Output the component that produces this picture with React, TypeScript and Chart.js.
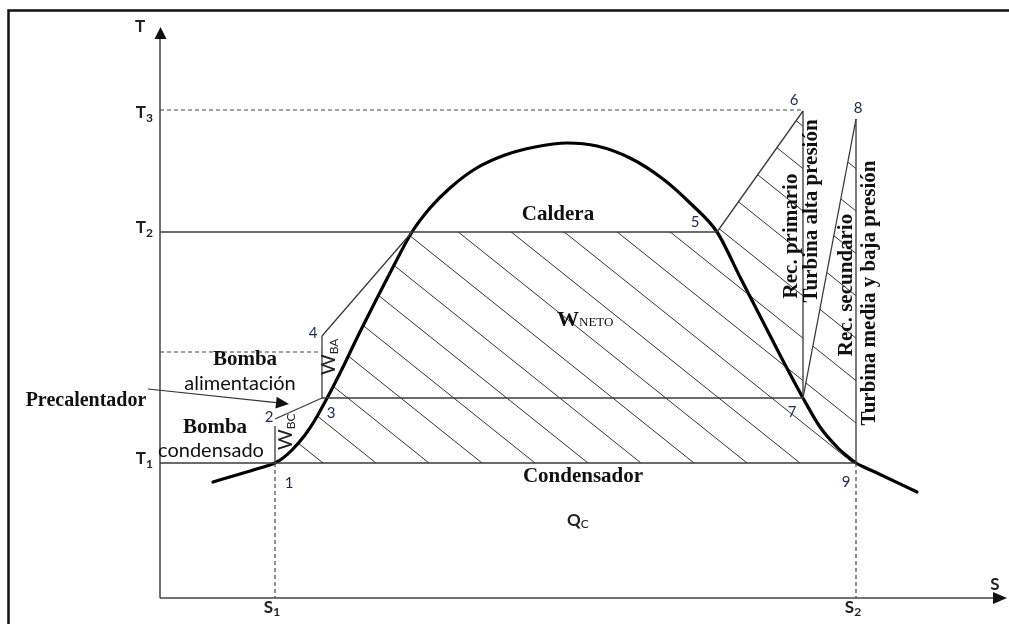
import React, { useEffect, useRef } from "react";
import { Chart, registerables } from "chart.js";
Chart.register(...registerables);

// ---- Data (diagram units: entropy s, temperature T) ----
const domeS = [5.3, 8.0, 10.0, 11.5, 12.3, 13.2, 14.5, 15.5, 16.5, 17.5, 18.5, 19.5, 21.0, 23.0, 25.2, 27.0, 29.0, 31.5, 34.5, 37.5, 40.7, 43.7, 47.0, 50.3, 53.0, 55.7, 58.0, 60.0, 62.0, 64.3, 66.0, 67.7, 68.7, 69.6, 70.6, 71.7, 75.7];
const domeT = [11.6, 12.4, 13.0, 13.5, 14.0, 14.8, 16.3, 17.8, 19.6, 21.5, 23.5, 25.6, 28.6, 32.5, 36.6, 39.0, 41.0, 42.9, 44.3, 45.1, 45.5, 45.2, 44.0, 41.9, 39.5, 36.6, 32.1, 28.2, 24.3, 20.0, 17.1, 15.1, 14.2, 13.5, 13.0, 12.5, 10.6];
const domeStartIdx = 3; // point 1 on the liquid line
const domeT2Idx = 14; // liquid line at T2

const stateLabels = ["1", "2", "3", "4", "5", "6", "7", "8", "9"];
const stateS = [11.5, 11.5, 16.2, 16.2, 55.7, 64.3, 64.3, 69.6, 69.6];
const stateT = [13.5, 17.9, 20.0, 26.2, 36.6, 48.7, 20.0, 47.9, 13.5];

const tTickLabels = ["1", "2", "3"];
const tTickValues = [13.5, 36.6, 48.8];
const sTickLabels = ["1", "2"];
const sTickValues = [11.5, 69.6];
const feedPumpLevel = 24.6;

const S_MAX = 84.7;
const T_MAX = 57.1;

const SERIF = '"Liberation Serif", "DejaVu Serif", serif';
const SANS = 'Lato, "Open Sans", sans-serif';

type Pt = { x: number; y: number };
const P = (i: number): Pt => ({ x: stateS[i], y: stateT[i] });
const dome: Pt[] = domeS.map((s, i) => ({ x: s, y: domeT[i] }));

const thin = { borderColor: "#3a3a3a", borderWidth: 1.3 };
const dashed = { borderColor: "#444", borderWidth: 1.2, borderDash: [4, 3] };

function seg(data: Pt[], style: any) {
  return { data, showLine: true, pointRadius: 0, tension: 0, fill: false, ...style };
}

type Part = { text: string; font: string; dy?: number; color?: string };
function drawRich(ctx: CanvasRenderingContext2D, parts: Part[], x: number, y: number, align: string, rot = 0) {
  ctx.save();
  ctx.translate(x, y);
  if (rot) ctx.rotate(rot);
  ctx.textBaseline = "alphabetic";
  ctx.textAlign = "left";
  const widths = parts.map((p) => {
    ctx.font = p.font;
    return ctx.measureText(p.text).width;
  });
  const total = widths.reduce((a, b) => a + b, 0);
  let cx = align === "center" ? -total / 2 : align === "right" ? -total : 0;
  parts.forEach((p, i) => {
    ctx.font = p.font;
    ctx.fillStyle = p.color || "#111";
    ctx.fillText(p.text, cx, p.dy || 0);
    cx += widths[i];
  });
  ctx.restore();
}

const boldSerif = `bold 21px ${SERIF}`;
const numFont = `15px ${SANS}`;
const numColor = "#1c2b4a";

type Label = { parts: Part[]; s: number; t: number; align: string; rot?: number };
const labels: Label[] = [
  { parts: [{ text: "T", font: `bold 17px ${SANS}`, color: "#222" }], s: -2.0, t: 56.6, align: "center" },
  ...tTickValues.map((v, i) => ({
    parts: [
      { text: "T", font: `bold 17px ${SANS}`, color: "#222" },
      { text: tTickLabels[i], font: `bold 12px ${SANS}`, dy: 4, color: "#222" },
    ],
    s: -0.7,
    t: v - 0.05 + (i === 2 ? -0.75 : 0),
    align: "right",
  })),
  ...sTickValues.map((v, i) => ({
    parts: [
      { text: "S", font: `bold 17px ${SANS}`, color: "#222" },
      { text: sTickLabels[i], font: `bold 12px ${SANS}`, dy: 3, color: "#222" },
    ],
    s: v - 0.3,
    t: -1.5,
    align: "center",
  })),
  { parts: [{ text: "S", font: `bold 17px ${SANS}`, color: "#222" }], s: 83.5, t: 0.8, align: "center" },
  { parts: [{ text: "Caldera", font: boldSerif }], s: 39.8, t: 37.8, align: "center" },
  {
    parts: [
      { text: "W", font: `bold 22px ${SERIF}` },
      { text: "NETO", font: `13px ${SERIF}` },
    ],
    s: 39.7,
    t: 27.2,
    align: "left",
  },
  { parts: [{ text: "Condensador", font: boldSerif }], s: 42.3, t: 11.6, align: "center" },
  {
    parts: [
      { text: "Q", font: `bold 17px ${SANS}`, color: "#222" },
      { text: "C", font: `12px ${SANS}`, dy: 2, color: "#222" },
    ],
    s: 40.7,
    t: 7.2,
    align: "left",
  },
  { parts: [{ text: "Precalentador", font: `bold 20px ${SERIF}` }], s: -7.4, t: 19.2, align: "center" },
  { parts: [{ text: "Bomba", font: boldSerif }], s: 8.5, t: 23.3, align: "center" },
  { parts: [{ text: "alimentación", font: `20px ${SANS}` }], s: 8.0, t: 20.8, align: "center" },
  { parts: [{ text: "Bomba", font: boldSerif }], s: 5.5, t: 16.5, align: "center" },
  { parts: [{ text: "condensado", font: `20px ${SANS}` }], s: 5.1, t: 14.1, align: "center" },
  {
    parts: [
      { text: "W", font: `20px ${SANS}`, color: "#222" },
      { text: "BA", font: `12px ${SANS}`, dy: 3, color: "#222" },
    ],
    s: 17.5,
    t: 22.3,
    align: "left",
    rot: -Math.PI / 2,
  },
  {
    parts: [
      { text: "W", font: `20px ${SANS}`, color: "#222" },
      { text: "BC", font: `12px ${SANS}`, dy: 3, color: "#222" },
    ],
    s: 13.2,
    t: 14.8,
    align: "left",
    rot: -Math.PI / 2,
  },
  { parts: [{ text: "Rec. primario", font: boldSerif }], s: 63.7, t: 36.2, align: "center", rot: -Math.PI / 2 },
  { parts: [{ text: "Turbina alta presión", font: boldSerif }], s: 65.7, t: 38.7, align: "center", rot: -Math.PI / 2 },
  { parts: [{ text: "Rec. secundario", font: boldSerif }], s: 69.2, t: 31.3, align: "center", rot: -Math.PI / 2 },
  { parts: [{ text: "Turbina media y baja presión", font: boldSerif }], s: 71.5, t: 30.5, align: "center", rot: -Math.PI / 2 },
];

// number label positions (offsets from each state point, in diagram units)
const numDS = [1.4, -0.6, 0.9, -0.9, -2.2, -0.9, -1.1, 0.2, -1.0];
const numDT = [-2.5, -0.3, -2.0, -0.2, 0.5, 0.6, -1.9, 0.6, -2.4];

function arrowHead(ctx: CanvasRenderingContext2D, tx: number, ty: number, ang: number, len: number, half: number) {
  ctx.save();
  ctx.translate(tx, ty);
  ctx.rotate(ang);
  ctx.beginPath();
  ctx.moveTo(0, 0);
  ctx.lineTo(-len, -half);
  ctx.lineTo(-len, half);
  ctx.closePath();
  ctx.fill();
  ctx.restore();
}

const diagramPlugin = {
  id: "diagram",
  beforeDatasetsDraw(chart: any) {
    const { ctx } = chart;
    const xs = chart.scales.x;
    const ys = chart.scales.y;
    const X = (v: number) => xs.getPixelForValue(v);
    const Y = (v: number) => ys.getPixelForValue(v);
    ctx.save();
    // frame
    ctx.strokeStyle = "#111";
    ctx.lineWidth = 2.5;
    ctx.beginPath();
    ctx.moveTo(8.5, 624);
    ctx.lineTo(8.5, 10.5);
    ctx.lineTo(1009, 10.5);
    ctx.stroke();

    // hatch region of the cycle
    const poly: Pt[] = [
      ...dome.slice(domeStartIdx, domeT2Idx + 1),
      P(4),
      P(5),
      P(6),
      P(7),
      P(8),
    ];
    ctx.beginPath();
    poly.forEach((p, i) => (i ? ctx.lineTo(X(p.x), Y(p.y)) : ctx.moveTo(X(p.x), Y(p.y))));
    ctx.closePath();
    ctx.clip();
    ctx.strokeStyle = "#333";
    ctx.lineWidth = 1;
    const ax = X(42.8);
    const ay = Y(stateT[8]);
    const slope = 0.8;
    const spacing = 53;
    for (let k = -25; k <= 25; k++) {
      const x0 = ax + k * spacing;
      ctx.beginPath();
      ctx.moveTo(x0 - 800, ay - 800 * slope);
      ctx.lineTo(x0 + 800, ay + 800 * slope);
      ctx.stroke();
    }
    ctx.restore();
  },
  afterDatasetsDraw(chart: any) {
    const { ctx } = chart;
    const xs = chart.scales.x;
    const ys = chart.scales.y;
    const X = (v: number) => xs.getPixelForValue(v);
    const Y = (v: number) => ys.getPixelForValue(v);
    ctx.save();
    ctx.fillStyle = "#111";
    // axis arrowheads
    arrowHead(ctx, X(0) + 0.5, Y(T_MAX), -Math.PI / 2, 12, 6);
    arrowHead(ctx, X(S_MAX), Y(0), 0, 14, 6);
    // Precalentador arrow
    const a0 = { x: X(-1.2), y: Y(20.9) };
    const a1 = { x: X(12.9), y: Y(19.4) };
    ctx.strokeStyle = "#333";
    ctx.lineWidth = 1.2;
    ctx.beginPath();
    ctx.moveTo(a0.x, a0.y);
    ctx.lineTo(a1.x - 8, a1.y - 0.85);
    ctx.stroke();
    arrowHead(ctx, a1.x, a1.y, Math.atan2(a1.y - a0.y, a1.x - a0.x), 13, 6);

    // state numbers
    stateLabels.forEach((lab, i) => {
      drawRich(ctx, [{ text: lab, font: numFont, color: numColor }], X(stateS[i] + numDS[i]), Y(stateT[i] + numDT[i]), "center");
    });
    // text labels
    labels.forEach((l) => drawRich(ctx, l.parts, X(l.s), Y(l.t), l.align, l.rot || 0));
    ctx.restore();
  },
};

export default function App() {
  const ref = useRef<HTMLCanvasElement | null>(null);
  useEffect(() => {
    if (!ref.current) return;
    const datasets = [
      // axes
      seg([{ x: 0, y: 0 }, { x: 0, y: T_MAX - 1.0 }], { borderColor: "#444", borderWidth: 1.5 }),
      seg([{ x: 0, y: 0 }, { x: S_MAX - 1.2, y: 0 }], { borderColor: "#444", borderWidth: 1.5 }),
      // dashed reference lines
      seg([{ x: 0, y: tTickValues[2] }, { x: stateS[5], y: tTickValues[2] }], dashed),
      seg([{ x: 0, y: feedPumpLevel }, { x: stateS[3], y: feedPumpLevel }], dashed),
      seg([{ x: sTickValues[0], y: tTickValues[0] }, { x: sTickValues[0], y: 0 }], dashed),
      seg([{ x: sTickValues[1], y: tTickValues[0] }, { x: sTickValues[1], y: 0 }], dashed),
      // cycle lines
      seg([{ x: 0, y: tTickValues[1] }, P(4)], thin),
      seg([{ x: 0, y: tTickValues[0] }, P(8)], thin),
      seg([P(2), P(6)], thin),
      seg([P(0), { x: stateS[0], y: stateT[1] - 0.7 }], thin),
      seg([P(1), P(2)], thin),
      seg([P(2), P(3)], thin),
      seg([P(3), dome[domeT2Idx]], thin),
      seg([P(4), P(5)], thin),
      seg([P(5), P(6)], thin),
      seg([P(6), P(7)], thin),
      seg([P(7), P(8)], thin),
      // saturation dome
      {
        data: dome,
        showLine: true,
        pointRadius: 0,
        cubicInterpolationMode: "monotone",
        borderColor: "#000",
        borderWidth: 3.2,
        borderCapStyle: "round",
        fill: false,
      },
    ];
    const chart = new Chart(ref.current, {
      type: "scatter",
      data: { datasets: datasets as any },
      options: {
        responsive: false,
        animation: false,
        devicePixelRatio: 1,
        events: [],
        layout: { padding: 0 },
        plugins: { legend: { display: false }, tooltip: { enabled: false }, title: { display: false } },
        scales: {
          x: { type: "linear", min: -16, max: 84.9, display: false },
          y: { type: "linear", min: -2.6, max: 59.8, display: false },
        },
      },
      plugins: [diagramPlugin as any],
    });
    return () => chart.destroy();
  }, []);
  return (
    <div style={{ position: "fixed", left: 0, top: 0, width: 1009, height: 624, background: "#fff" }}>
      <canvas ref={ref} width={1009} height={624} style={{ display: "block" }} />
    </div>
  );
}
